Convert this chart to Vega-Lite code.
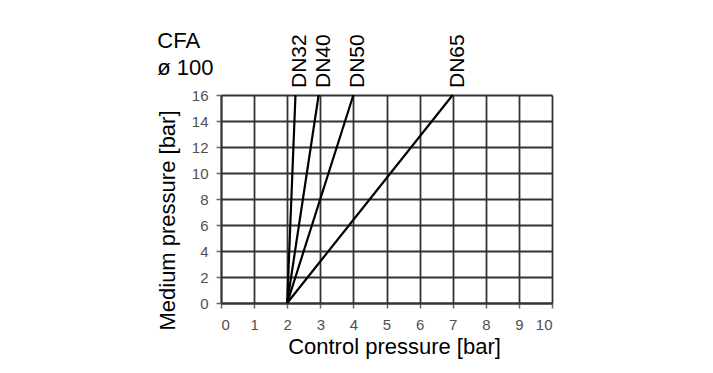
{
  "$schema": "https://vega.github.io/schema/vega-lite/v6.json",
  "autosize": "none",
  "width": 331,
  "height": 208,
  "padding": {"left": 221, "top": 95, "right": 161, "bottom": 70},
  "background": "white",
  "config": {
    "font": "Liberation Sans",
    "view": {"stroke": null}
  },
  "title": {
    "text": ["CFA", "ø 100"],
    "anchor": "start",
    "dx": 1,
    "dy": 62,
    "offset": 16,
    "fontSize": 22,
    "fontWeight": "normal",
    "lineHeight": 27,
    "color": "black",
    "font": "Liberation Sans"
  },
  "data": {
    "values": [
      {"series": "DN32", "control": 2, "medium": 0},
      {"series": "DN32", "control": 2.25, "medium": 16},
      {"series": "DN40", "control": 2, "medium": 0},
      {"series": "DN40", "control": 2.95, "medium": 16},
      {"series": "DN50", "control": 2, "medium": 0},
      {"series": "DN50", "control": 4, "medium": 16},
      {"series": "DN65", "control": 2, "medium": 0},
      {"series": "DN65", "control": 7, "medium": 16}
    ]
  },
  "encoding": {
    "x": {
      "field": "control",
      "type": "quantitative",
      "scale": {"domain": [0, 10], "nice": false},
      "axis": {
        "values": [0, 1, 2, 3, 4, 5, 6, 7, 8, 9, 10],
        "title": "Control pressure [bar]",
        "titleFontSize": 22,
        "titleFontWeight": "normal",
        "titleColor": "black",
        "titleX": 173,
        "titlePadding": 4,
        "labelFontSize": 15,
        "labelColor": "#505050",
        "labelPadding": 9,
        "tickSize": 5,
        "tickColor": "#666",
        "tickWidth": 1.5,
        "domainColor": "#333",
        "domainWidth": 1.8,
        "gridColor": "#333",
        "gridWidth": 1.8,
        "gridOpacity": 1
      }
    },
    "y": {
      "field": "medium",
      "type": "quantitative",
      "scale": {"domain": [0, 16], "nice": false},
      "axis": {
        "values": [0, 2, 4, 6, 8, 10, 12, 14, 16],
        "title": "Medium pressure [bar]",
        "titleFontSize": 22,
        "titleFontWeight": "normal",
        "titleColor": "black",
        "titleY": 125,
        "titlePadding": 12,
        "labelFontSize": 15,
        "labelColor": "#505050",
        "labelPadding": 8,
        "tickSize": 5,
        "tickColor": "#666",
        "tickWidth": 1.5,
        "domainColor": "#333",
        "domainWidth": 1.8,
        "gridColor": "#333",
        "gridWidth": 1.8,
        "gridOpacity": 1
      }
    }
  },
  "layer": [
    {
      "mark": {"type": "line", "color": "black", "strokeWidth": 2.2},
      "encoding": {"detail": {"field": "series"}}
    },
    {
      "transform": [{"filter": "datum.medium == 16"}],
      "mark": {
        "type": "text",
        "angle": 270,
        "align": "left",
        "baseline": "middle",
        "dx": 7,
        "dy": 5,
        "fontSize": 21,
        "color": "black"
      },
      "encoding": {"text": {"field": "series"}}
    }
  ]
}
